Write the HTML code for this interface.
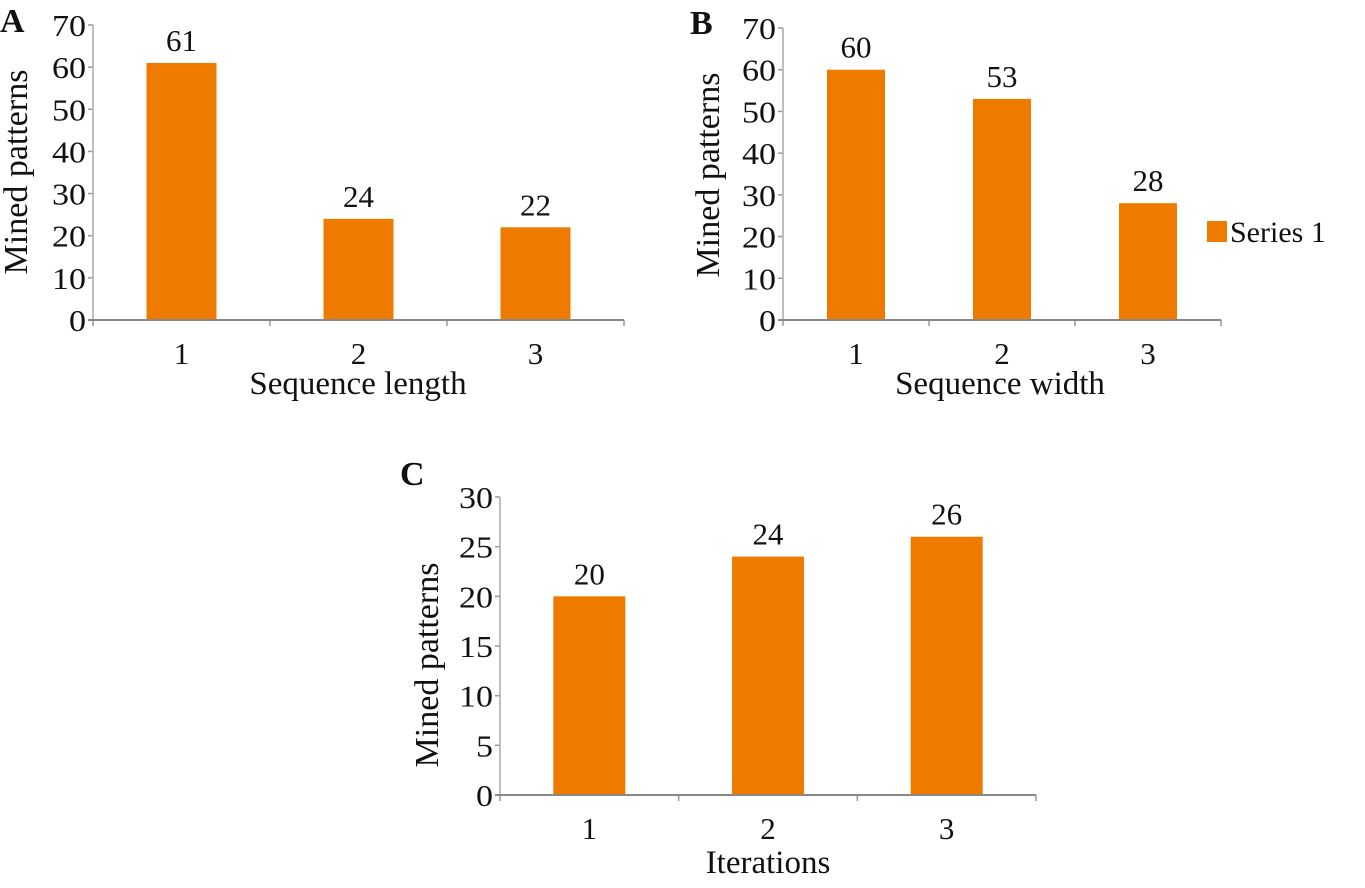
<!DOCTYPE html>
<html><head><meta charset="utf-8"><style>
body{margin:0;background:#fff;}
svg text{font-family:"Liberation Serif",serif;fill:#111;}
</style></head><body>
<svg id="c" width="1365" height="883"></svg>
<script>
const categories = ["1","2","3"];
const valuesA = [61,24,22];
const valuesB = [60,53,28];
const valuesC = [20,24,26];
const ticksA = [0,10,20,30,40,50,60,70];
const ticksB = [0,10,20,30,40,50,60,70];
const ticksC = [0,5,10,15,20,25,30];
const svg = document.getElementById('c');
const NS = 'http://www.w3.org/2000/svg';
function mk(tag, attrs, text){const e=document.createElementNS(NS,tag);for(const k in attrs)e.setAttribute(k,attrs[k]);if(text!==undefined)e.textContent=text;svg.appendChild(e);return e;}
function panel(p){
  const yScale=v=>p.y0-(v/p.max)*(p.y0-p.yTop);
  const cw=(p.x1-p.x0)/categories.length;
  const xC=i=>p.x0+cw*(i+0.5);
  p.ticks.forEach(t=>{
    const el=mk('text',{x:p.x0-7,y:yScale(t)+11,'text-anchor':'end','font-size':31,'textLength':t>=10?34:17,'lengthAdjust':'spacingAndGlyphs'},String(t));
    
    
    const tk=mk('line',{x1:p.x0-5,x2:p.x0,y1:yScale(t),y2:yScale(t),stroke:'#999','stroke-width':1.5});
    
    
  });
  p.values.forEach((v,i)=>{
    const r=mk('rect',{x:xC(i)-p.bw/2,y:yScale(v),width:p.bw,height:p.y0-yScale(v),fill:'#EE7A00'});
    
    
    const t=mk('text',{x:xC(i),y:yScale(v)-12,'text-anchor':'middle','font-size':31},String(v));
    
    
    const c=mk('text',{x:xC(i),y:p.y0+44,'text-anchor':'middle','font-size':31},categories[i]);
    
    
  });
  for(let i=0;i<=categories.length;i++){
    const tk=mk('line',{x1:p.x0+cw*i,x2:p.x0+cw*i,y1:p.y0,y2:p.y0+6,stroke:'#999','stroke-width':1.5});
    
    
  }
  const ya=mk('line',{x1:p.x0,x2:p.x0,y1:p.yTop,y2:p.y0,stroke:'#aaa','stroke-width':1.5});
  
  
  const xa=mk('line',{x1:p.x0-5,x2:p.x1,y1:p.y0,y2:p.y0,stroke:'#888','stroke-width':2});
  
  
  const xt=mk('text',{x:p.xtx,y:p.xty,'text-anchor':'middle','font-size':33},p.xtitle);
  
  
  const yt=mk('text',{x:0,y:0,'text-anchor':'middle','font-size':34,transform:`translate(${p.ytx},${p.yty}) rotate(-90)`},'Mined patterns');
  
  
  const lt=mk('text',{x:p.lx,y:p.ly,'font-size':34,'font-weight':'bold'},p.letter);
  
  
}
panel({id:'a',values:valuesA,ticks:ticksA,max:70,x0:93,x1:624,y0:320,yTop:25,bw:70,xtitle:'Sequence length',xtx:358,xty:394,ytx:27,yty:172,letter:'A',lx:0,ly:32});
panel({id:'b',values:valuesB,ticks:ticksB,max:70,x0:783,x1:1221,y0:320,yTop:28,bw:58,xtitle:'Sequence width',xtx:1000,xty:394,ytx:719,yty:175,letter:'B',lx:690,ly:34});
panel({id:'c',values:valuesC,ticks:ticksC,max:30,x0:500,x1:1036,y0:795,yTop:497,bw:72,xtitle:'Iterations',xtx:768,xty:873,ytx:438,yty:665,letter:'C',lx:400,ly:485});
const ls=mk('rect',{x:1207,y:221,width:20,height:21,fill:'#EE7A00'});


const lt=mk('text',{x:1230,y:242,'font-size':30},'Series 1');


</script>
</body></html>
